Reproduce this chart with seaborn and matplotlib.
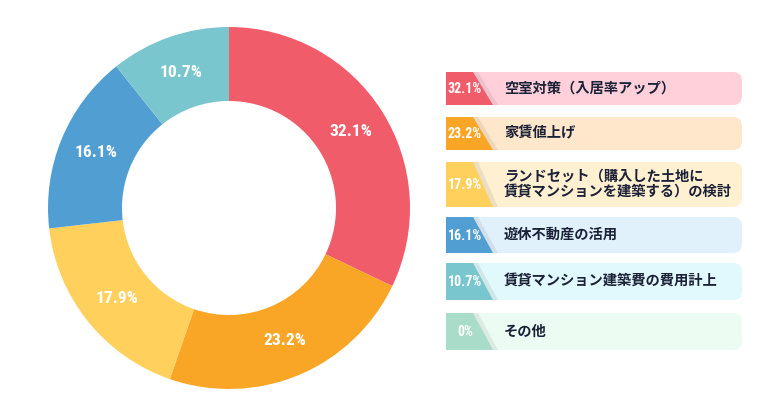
import matplotlib
matplotlib.use("Agg")
import matplotlib.pyplot as plt
import seaborn as sns
import numpy as np
from matplotlib.patches import FancyBboxPatch, Polygon

categories = ["空室対策（入居率アップ）", "家賃値上げ",
              "ランドセット（購入した土地に\n賃貸マンションを建築する）の検討",
              "遊休不動産の活用", "賃貸マンション建築費の費用計上", "その他"]
values = [32.1, 23.2, 17.9, 16.1, 10.7, 0.0]
pct_labels = ["32.1%", "23.2%", "17.9%", "16.1%", "10.7%", "0%"]
colors = ["#F15C6B", "#F9A526", "#FFD05C", "#519FD2", "#79C6CF", "#A9DCC9"]
bg_colors = ["#FFD0DA", "#FFE7CB", "#FFF0D1", "#E1F1FC", "#E1F9FC", "#EDFCF3"]

sns.set_theme(style="white")
plt.rcParams['font.family'] = ['Noto Sans CJK JP', 'DejaVu Sans']

W, H = 770, 420
fig = plt.figure(figsize=(W / 100, H / 100), dpi=100)

# donut
cx, cy, R = 229, 208, 181
ax = fig.add_axes([(cx - R) / W, (H - cy - R) / H, 2 * R / W, 2 * R / H])
r_in = 107 / R
wedges, _ = ax.pie(values, colors=colors, startangle=90, counterclock=False,
                   radius=1.0, wedgeprops=dict(width=1 - r_in, linewidth=0))
ax.set_xlim(-1, 1)
ax.set_ylim(-1, 1)
ax.set_aspect("equal")
ax.axis("off")
label_r = (1 + r_in) / 2
num_font = ['Liberation Sans Narrow', 'Roboto Condensed', 'Roboto', 'DejaVu Sans']
for w, lab, v in zip(wedges, pct_labels, values):
    if v <= 0:
        continue
    ang = np.deg2rad((w.theta1 + w.theta2) / 2)
    ax.text(label_r * np.cos(ang), label_r * np.sin(ang), lab, ha="center", va="center",
            color="white", fontsize=12.5, fontweight="bold", family=num_font)

# legend in pixel coordinates
lx = fig.add_axes([0, 0, 1, 1])
lx.set_xlim(0, W)
lx.set_ylim(H, 0)
lx.axis("off")
lx.patch.set_alpha(0)

rows = [(72, 105), (117, 150), (162, 207), (217, 253), (263, 300), (313, 350)]
left, right = 446, 742
for (top, bot), lab, pl, c, bg in zip(rows, categories, pct_labels, colors, bg_colors):
    h = bot - top
    lx.add_patch(FancyBboxPatch((left, top), right - left, h,
                                boxstyle="round,pad=0,rounding_size=9",
                                facecolor=bg, edgecolor="none"))
    sh = np.array(matplotlib.colors.to_rgb(bg)) * 0.88
    lx.add_patch(Polygon([(472, top), (478, top), (498, bot), (492, bot)],
                         closed=True, facecolor=sh, edgecolor="none", alpha=0.6))
    lx.add_patch(Polygon([(left, top), (473, top), (493, bot), (left, bot)],
                         closed=True, facecolor=c, edgecolor="none"))
    ymid = (top + bot) / 2
    lx.text(465, ymid + 0.5, pl, ha="center", va="center", color="white",
            fontsize=10, fontweight="bold", family=num_font)
    lines = lab.split("\n")
    n = len(lines)
    for i, line in enumerate(lines):
        y = ymid + (i - (n - 1) / 2) * 15
        lx.text(504, y, line, ha="left", va="center", color="#1B2238",
                fontsize=10.3, fontweight="bold")

fig.savefig("out.png", dpi=100, facecolor="white")
